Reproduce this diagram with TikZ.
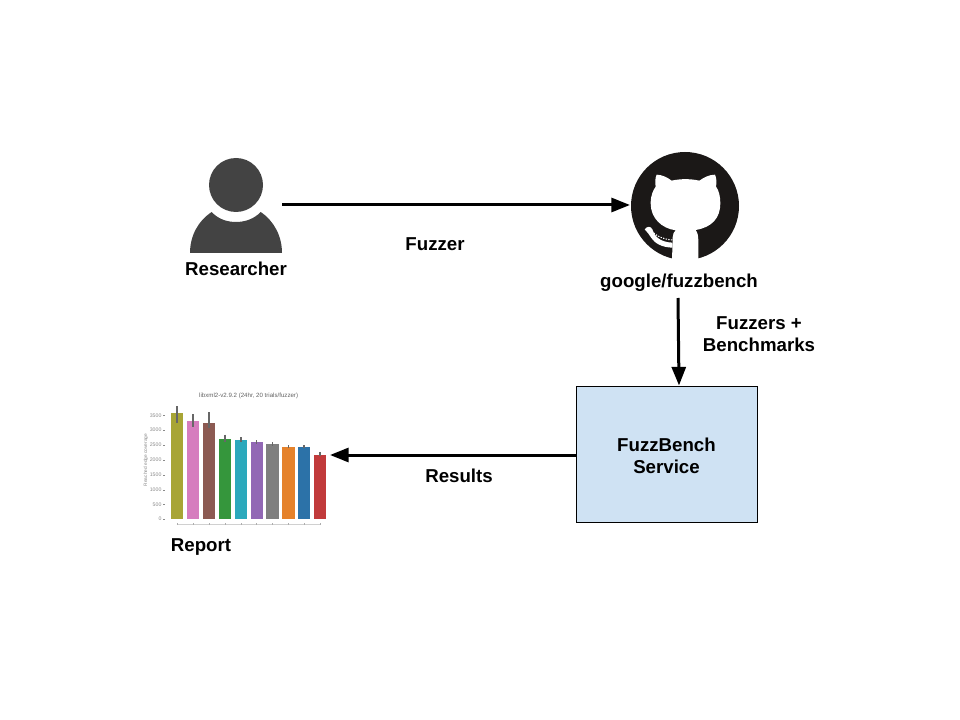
\documentclass[tikz,border=0pt]{standalone}
\usepackage{fontspec}
\setmainfont{Liberation Sans}
\definecolor{boxblue}{HTML}{CFE2F3}
\definecolor{persongrey}{HTML}{434343}
\definecolor{ghblack}{HTML}{1B1817}
\definecolor{chartgrey}{HTML}{8A8A8A}
\usetikzlibrary{arrows.meta}
\tikzset{
  lbl/.style={font=\fontsize{14pt}{16.5pt}\selectfont\bfseries, text=black, align=center, inner sep=0pt},
  conn/.style={draw=black, line width=2.25pt, -{Triangle[length=14pt,width=10.5pt]}},
  servicebox/.style={draw=black, line width=0.75pt, fill=boxblue, minimum width=135.75pt, minimum height=102pt, inner sep=0pt},
  errbar/.style={draw=chartgrey!75!black, line width=1.2pt},
  tinytick/.style={font=\fontsize{3.9pt}{4.4pt}\selectfont, text=chartgrey, inner sep=0pt},
}
\begin{document}
\begin{tikzpicture}[x=0.75pt,y=-0.75pt]
\useasboundingbox (0,0) rectangle (960,720);
% Researcher icon
\fill[persongrey] (236,185) circle (27);
\fill[persongrey] (190,253) .. controls (190,236) and (198,221) .. (211.7,212)
  .. controls (218,219) and (227,222) .. (236,222)
  .. controls (245,222) and (254,219) .. (260.7,212)
  .. controls (274,221) and (282,236) .. (282,253) -- cycle;
\coordinate (researcher) at (282,205);
\node[lbl] (researcherlabel) at (236,269) {Researcher};
% GitHub icon
\fill[ghblack] (685,206) circle (54);
\begin{scope}[shift={(610,140)},x=0.25pt,y=-0.25pt]
  \fill[white] (186,364) -- (188,292) .. controls (188,282) and (192,275) .. (197,271)
     .. controls (155,265) and (122,235) .. (122,190)
     .. controls (122,165) and (130,150) .. (137,140)
     .. controls (135,128) and (135,115) .. (140,104)
     .. controls (155,104) and (172,112) .. (185,122)
     .. controls (210,116) and (242,116) .. (268,122)
     .. controls (282,112) and (298,104) .. (315,104)
     .. controls (320,115) and (320,128) .. (318,140)
     .. controls (326,150) and (331,168) .. (331,190)
     .. controls (331,235) and (305,262) .. (257,270)
     .. controls (264,280) and (265,290) .. (265,300)
     -- (265,364) -- cycle;
  % tentacle
  \fill[white] (104,268) .. controls (112,258) and (122,258) .. (127,268)
     .. controls (134,290) and (150,306) .. (187,308)
     -- (187,323) .. controls (155,322) and (135,310) .. (124,294)
     .. controls (118,284) and (112,276) .. (104,268) -- cycle;
  \draw[white, line width=0.8pt, dash pattern=on 1pt off 1pt]
     (120,268) .. controls (135,285) and (155,298) .. (188,300);
\end{scope}
\coordinate (githubin) at (630,205);
\coordinate (githubout) at (678,298);
\node[lbl] (githublabel) at (679,283) {google/fuzzbench};
% Service
\node[servicebox] (service) at (666.5,454) {};
\node[lbl] (servicelabel) at (666.5,456) {FuzzBench\\Service};
% Report chart, drawn in the coordinates of a 3x enlarged crop
\begin{scope}[shift={(130,380)},x=0.25pt,y=-0.25pt]
  \foreach \xa/\xb/\top/\col/\ea/\eb in {
    122/160/100/A8A535/78/128,
    170/208/124/D67DBE/102/142,
    218/256/128/8C5A52/97/143,
    266/304/178/35963C/164/186,
    314/351/180/2BA9BC/172/186,
    362/398/186/9268B5/181/191,
    408/446/192/7F7F7F/187/197,
    456/494/200/E5822B/195/203,
    504/541/200/2C72A8/195/205,
    551/588/224/C13A3B/216/228}{
    \definecolor{barcol}{HTML}{\col}
    \fill[barcol] (\xa,417) rectangle (\xb,\top);
    \draw[errbar] ({(\xa+\xb)/2},\ea) -- ({(\xa+\xb)/2},\eb);
  }
  \foreach \yy/\tl in {417/0,373/500,329/1000,285/1500,240/2000,195/2500,150/3000,106/3500}{
    \node[tinytick,anchor=east] at (95,\yy) {\tl};
    \draw[chartgrey,line width=0.25pt] (100,\yy) -- (106,\yy);
  }
  \draw[chartgrey!40,line width=0.4pt] (140,432) -- (570,432);
  \foreach \xx in {141,189,237,285,333,380,427,475,522,570}
    \draw[chartgrey!70,line width=0.3pt] (\xx,430) -- (\xx,436);
  \node[tinytick,font=\fontsize{3.6pt}{4pt}\selectfont,rotate=90] at (48,240) {Reached edge coverage};
  \node[tinytick,font=\fontsize{4.6pt}{5pt}\selectfont,text=chartgrey!70!black] at (356,47) {libxml2-v2.9.2 (24hr, 20 trials/fuzzer)};
\end{scope}
\coordinate (reportin) at (330,455);
\node[lbl] (reportlabel) at (201,547) {Report};
% Connectors
\draw[conn] (researcher) -- (githubin);
\draw[conn] (githubout) -- ([xshift=0.75pt]service.north -| githubout);
\draw[conn] (service.west |- reportin) -- (reportin);
% Connector labels
\node[lbl] (fuzzerlabel) at (435,244) {Fuzzer};
\node[lbl] (benchlabel) at (759,334) {Fuzzers +\\Benchmarks};
\node[lbl] (resultslabel) at (459,476) {Results};
\end{tikzpicture}
\end{document}
